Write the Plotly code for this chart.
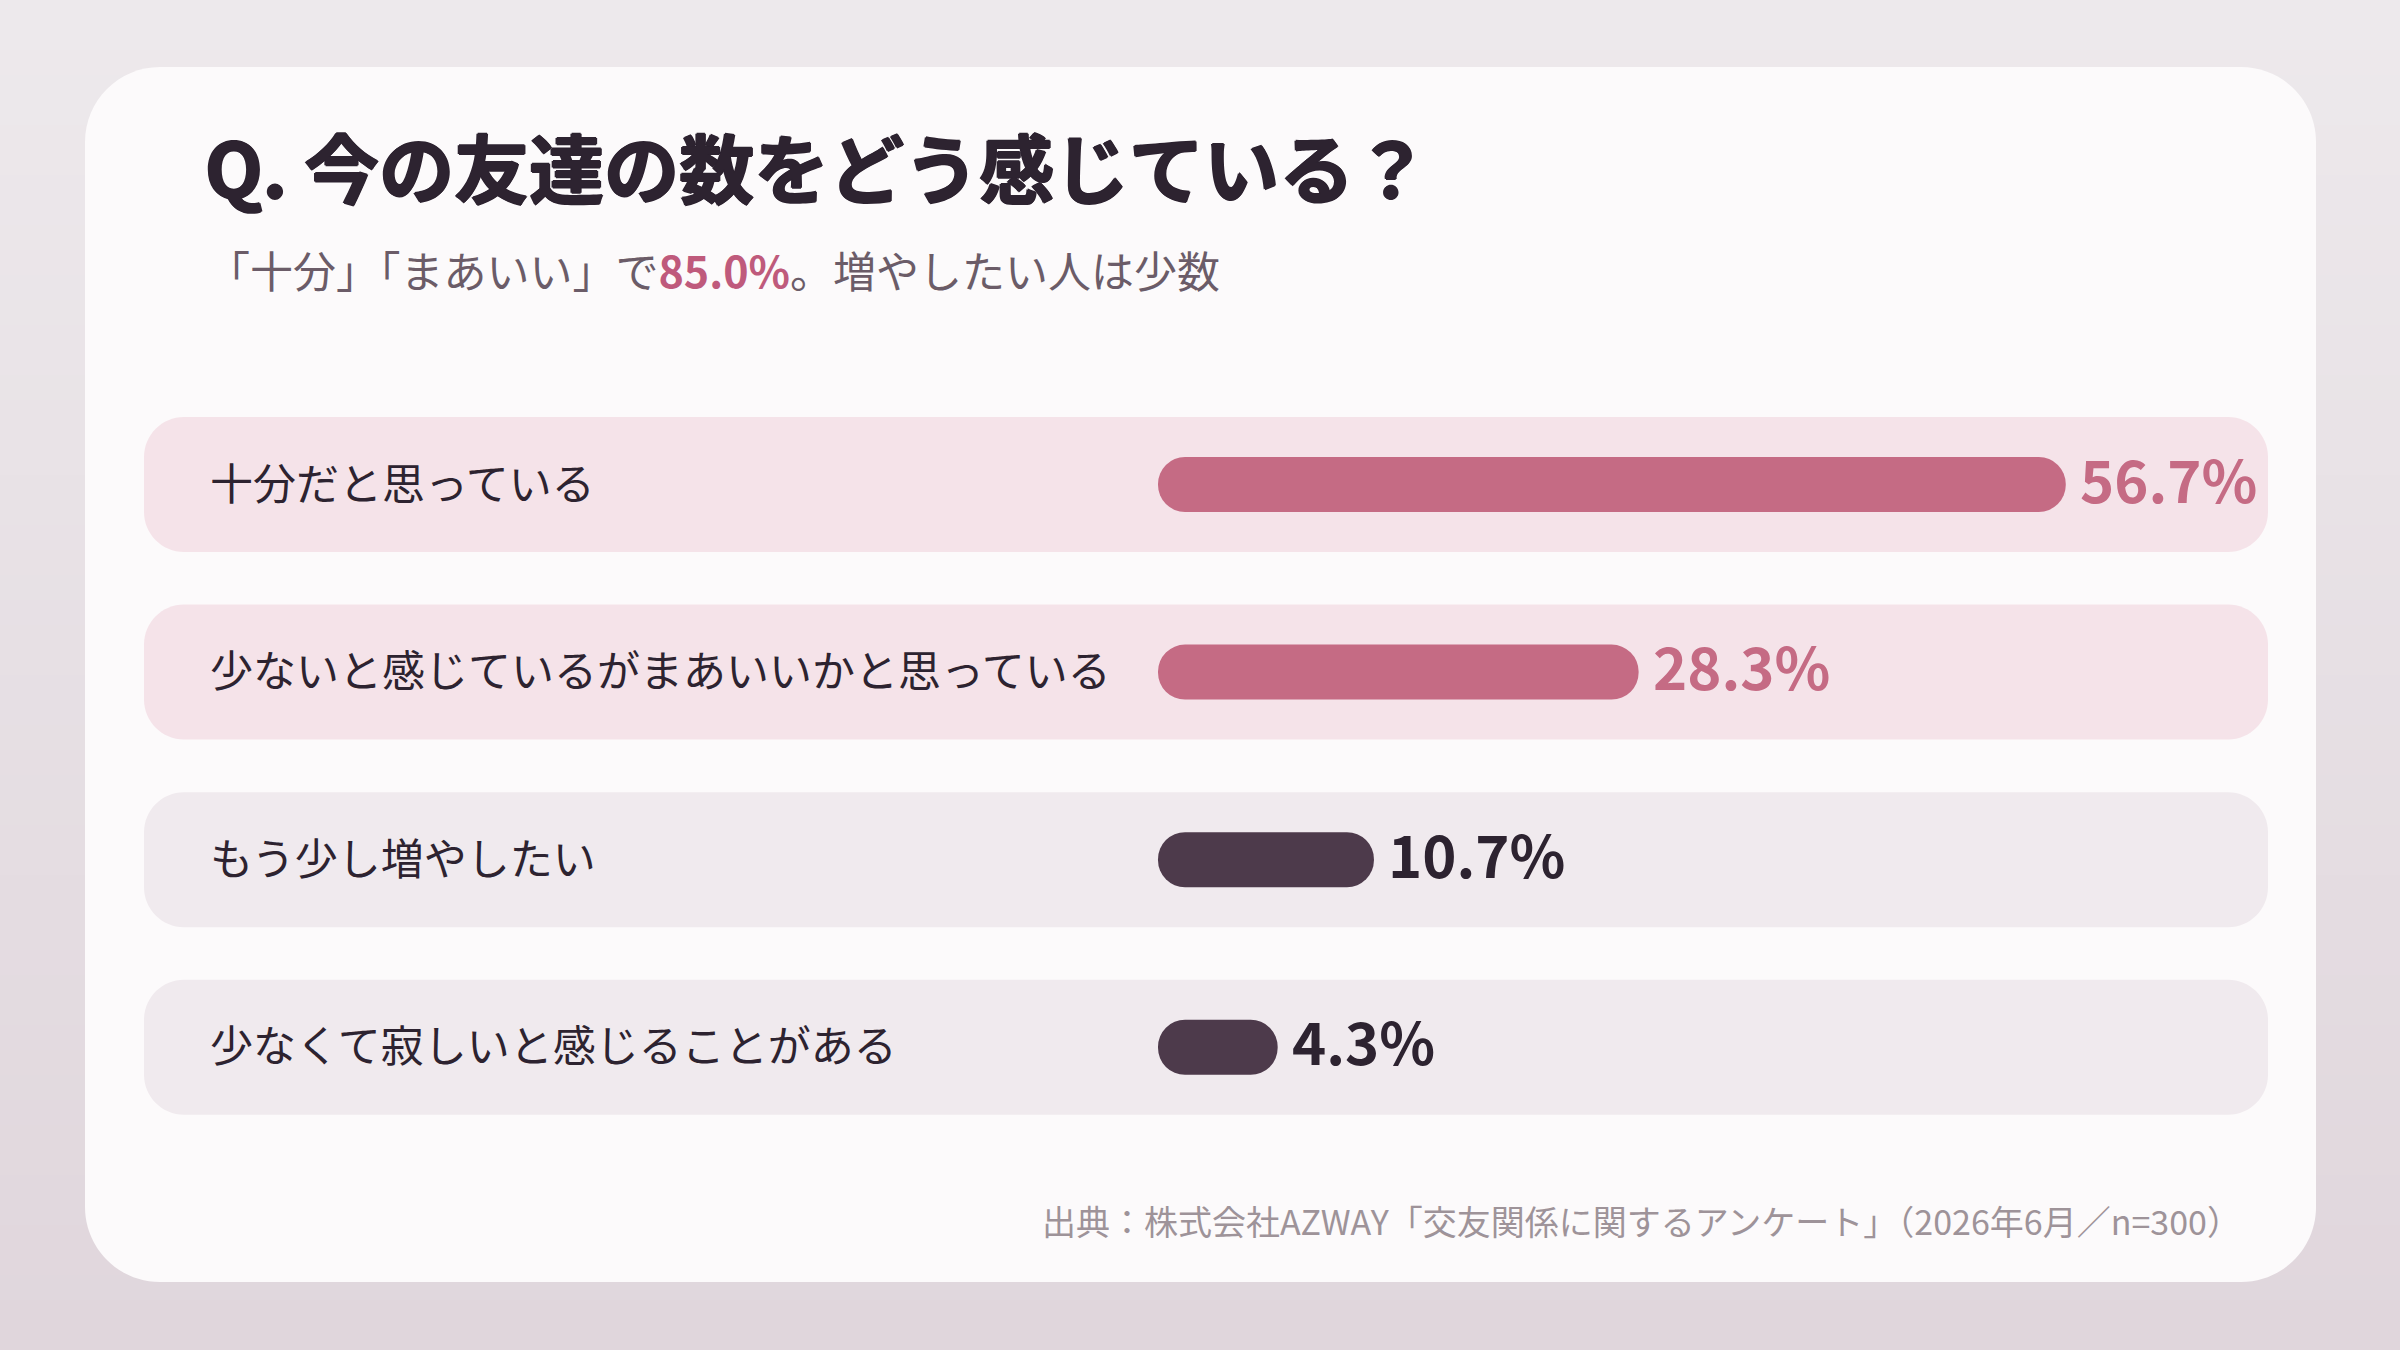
import plotly.graph_objects as go

# survey answers, top to bottom
labels = [
    "十分だと思っている",
    "少ないと感じているがまあいいかと思っている",
    "もう少し増やしたい",
    "少なくて寂しいと感じることがある",
]
values = [56.7, 28.3, 10.7, 4.3]
value_text = ["56.7%", "28.3%", "10.7%", "4.3%"]

title = "Q. 今の友達の数をどう感じている？"
subtitle_pre = "「十分」「まあいい」で"
subtitle_hl = "85.0%"
subtitle_post = "。増やしたい人は少数"
source = "出典：株式会社AZWAY「交友関係に関するアンケート」（2026年6月／n=300）"

# styles
W, H = 2400, 1350
FONT = "Noto Sans CJK JP"
INK = "#2d2330"
PINK, DARK = "#c56b84", "#4d3a4b"
bar_colors = [PINK, PINK, DARK, DARK]
band_colors = ["#f5e3e9", "#f5e3e9", "#f0eaee", "#f0eaee"]
value_colors = [PINK, PINK, INK, INK]

PX_PER_PCT = 15.04      # bar length scale
BAR_LEFT = 1158         # px where the pill starts
BAR_H = 55              # pill thickness, px
ROW0, PITCH = 484.5, 187.6
CAP = BAR_H / PX_PER_PCT


def X(px):
    return px / W


def Y(py):
    return 1 - py / H


def rounded(x0, y0, x1, y1, r):
    k = 0.5523 * r
    pts = [
        ("M", [(x0 + r, y0)]),
        ("L", [(x1 - r, y0)]),
        ("C", [(x1 - r + k, y0), (x1, y0 + r - k), (x1, y0 + r)]),
        ("L", [(x1, y1 - r)]),
        ("C", [(x1, y1 - r + k), (x1 - r + k, y1), (x1 - r, y1)]),
        ("L", [(x0 + r, y1)]),
        ("C", [(x0 + r - k, y1), (x0, y1 - r + k), (x0, y1 - r)]),
        ("L", [(x0, y0 + r)]),
        ("C", [(x0, y0 + r - k), (x0 + r - k, y0), (x0 + r, y0)]),
    ]
    s = ""
    for cmd, ps in pts:
        s += cmd + " " + " ".join(f"{X(a):.5f},{Y(b):.5f}" for a, b in ps) + " "
    return s + "Z"


def mix(c1, c2, t):
    a = [int(c1[i:i + 2], 16) for i in (1, 3, 5)]
    b = [int(c2[i:i + 2], 16) for i in (1, 3, 5)]
    return "#" + "".join(f"{round(p + (q - p) * t):02x}" for p, q in zip(a, b))


shapes = []
# soft vertical background gradient
n_strips = 54
for s in range(n_strips):
    shapes.append(dict(
        type="rect", xref="paper", yref="paper", layer="below",
        x0=0, x1=1, y0=Y((s + 1) * H / n_strips + 1), y1=Y(s * H / n_strips),
        fillcolor=mix("#ede9ec", "#e0d6dc", s / (n_strips - 1)), line_width=0,
    ))
# white card
shapes.append(dict(type="path", xref="paper", yref="paper", layer="below",
                   path=rounded(85, 67, 2316, 1282, 75),
                   fillcolor="#fcfafb", line_width=0))
# row bands
for i in range(len(labels)):
    cy = ROW0 + PITCH * i
    shapes.append(dict(type="path", xref="paper", yref="paper", layer="below",
                       path=rounded(144, cy - 67.5, 2268, cy + 67.5, 40),
                       fillcolor=band_colors[i], line_width=0))

fig = go.Figure(go.Bar(
    y=labels,
    x=[v + CAP for v in values],
    base=-CAP / 2,
    orientation="h",
    width=BAR_H / PITCH,
    marker=dict(color=bar_colors, cornerradius=BAR_H / 2, line_width=0),
    hoverinfo="skip",
))

# thicken the heading a little, the installed CJK font has no black weight
heavy = ", ".join(f"{dx}px {dy}px 0 {INK}" for dx, dy in
                  [(1.2, 0), (-1.2, 0), (0, 1.2), (0, -1.2)])

annotations = [
    dict(text=f"<b>{title}</b>", x=X(203), y=Y(165), xref="paper", yref="paper",
         xanchor="left", yanchor="middle", showarrow=False,
         font=dict(family=FONT, size=75, color=INK, weight=900, shadow=heavy)),
    dict(text=f'{subtitle_pre}<span style="color:#bf5a7c"><b>{subtitle_hl}</b></span>{subtitle_post}',
         x=X(205), y=Y(269), xref="paper", yref="paper",
         xanchor="left", yanchor="middle", showarrow=False,
         font=dict(family=FONT, size=43, color="#6b5c68")),
    dict(text=source, x=X(2243), y=Y(1220), xref="paper", yref="paper",
         xanchor="right", yanchor="middle", showarrow=False,
         font=dict(family=FONT, size=34, color="#9e9399")),
]
for i, lab in enumerate(labels):
    annotations.append(dict(
        text=lab, x=X(208), y=lab, xref="paper", yref="y",
        xanchor="left", yanchor="middle", yshift=4, showarrow=False,
        font=dict(family=FONT, size=43, color=INK)))
    annotations.append(dict(
        text=f"<b>{value_text[i]}</b>", x=values[i] + CAP / 2, y=lab,
        xref="x", yref="y", xanchor="left", yanchor="middle",
        xshift=12, yshift=7, showarrow=False,
        font=dict(family=FONT, size=58, color=value_colors[i])))

x_zero = BAR_LEFT + BAR_H / 2
fig.update_layout(
    width=W, height=H,
    margin=dict(l=0, r=0, t=0, b=0),
    paper_bgcolor="#ede9ec",
    plot_bgcolor="rgba(0,0,0,0)",
    showlegend=False,
    hovermode=False,
    shapes=shapes,
    annotations=annotations,
    xaxis=dict(range=[-x_zero / PX_PER_PCT, (W - x_zero) / PX_PER_PCT],
               visible=False, fixedrange=True),
    yaxis=dict(categoryorder="array", categoryarray=labels,
               range=[(H - ROW0) / PITCH, -ROW0 / PITCH],
               visible=False, fixedrange=True),
)

fig.write_html("out.html", config={"displayModeBar": False},
               post_script="document.body.style.margin = '0';")
